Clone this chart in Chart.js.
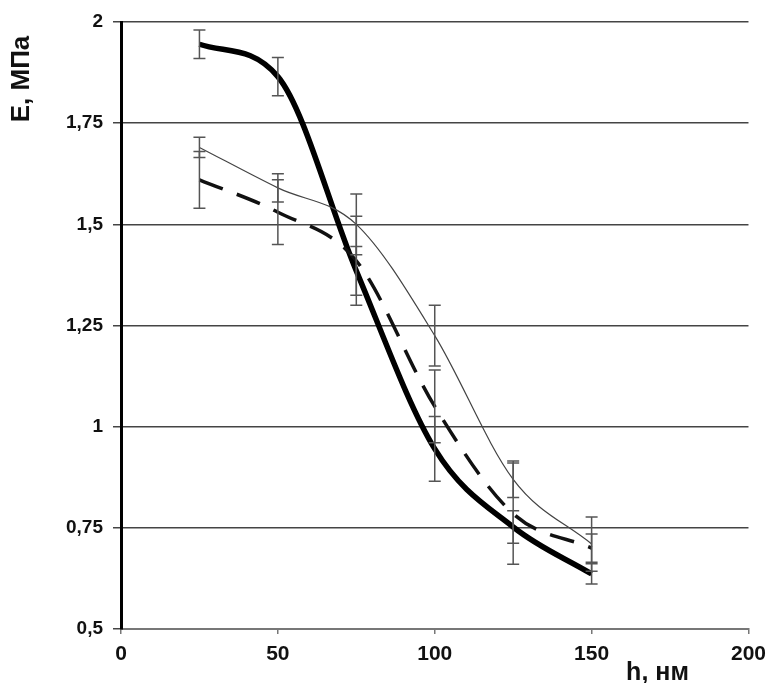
<!DOCTYPE html>
<html>
<head>
<meta charset="utf-8">
<script src="https://cdn.jsdelivr.net/npm/chart.js@4/dist/chart.umd.min.js"></script>
<style>
  body { margin: 0; background: #fff; }
  canvas { display: block; }
</style>
</head>
<body>
<canvas id="myChart" width="774" height="683"></canvas>
<script>
// h, нм
const hValues = [25, 50, 75, 100, 125, 150];

// E, МПа - three curves
const thickSeries = [1.945, 1.865, 1.385, 0.945, 0.752, 0.636];
const thickErr = [0.035, 0.047, 0.06, 0.08, 0.04, 0.025];

const dashedSeries = [1.61, 1.53, 1.41, 1.05, 0.785, 0.70];
const dashedErr = [0.07, 0.08, 0.11, 0.09, 0.125, 0.035];

const thinSeries = [1.69, 1.59, 1.50, 1.225, 0.87, 0.71];
const thinErr = [0.025, 0.035, 0.075, 0.075, 0.045, 0.067];

const xTicks = [0, 50, 100, 150, 200];
const yTicks = [0.5, 0.75, 1, 1.25, 1.5, 1.75, 2];

function toPoints(series) {
    return hValues.map((h, i) => ({ x: h, y: series[i] }));
}

// vertical error bars with caps, drawn through the chart scales
const errorBars = {
    id: 'errorBars',
    afterDatasetsDraw(chart) {
        const { ctx, scales: { x, y } } = chart;
        ctx.save();
        ctx.strokeStyle = '#555';
        ctx.lineWidth = 1.5;
        chart.data.datasets.forEach(ds => {
            ds.data.forEach((p, i) => {
                const px = x.getPixelForValue(p.x);
                const top = y.getPixelForValue(p.y + ds.errors[i]);
                const bot = y.getPixelForValue(p.y - ds.errors[i]);
                ctx.beginPath();
                ctx.moveTo(px, top); ctx.lineTo(px, bot);
                ctx.moveTo(px - 6, top); ctx.lineTo(px + 6, top);
                ctx.moveTo(px - 6, bot); ctx.lineTo(px + 6, bot);
                ctx.stroke();
            });
        });
        ctx.restore();
    }
};

// axis titles placed like in the original figure
const axisTitles = {
    id: 'axisTitles',
    afterDraw(chart) {
        const { ctx, chartArea, scales: { x } } = chart;
        ctx.save();
        ctx.fillStyle = '#111';
        ctx.font = 'bold 25px "Liberation Sans", Arial, sans-serif';
        ctx.textAlign = 'center';
        ctx.textBaseline = 'alphabetic';
        ctx.fillText('h, нм', x.getPixelForValue(171), chartArea.bottom + 51);

        ctx.font = 'bold 26px "Liberation Sans", Arial, sans-serif';
        ctx.translate(22, chartArea.top + 57);
        ctx.rotate(-Math.PI / 2);
        ctx.textBaseline = 'middle';
        ctx.fillText('E, МПа', 0, 0);
        ctx.restore();
    }
};

const ctx = document.getElementById('myChart').getContext('2d');
const myChart = new Chart(ctx, {
    type: 'line',
    data: {
        datasets: [
            {
                label: 'thin',
                data: toPoints(thinSeries),
                errors: thinErr,
                borderColor: '#444',
                borderWidth: 1.2,
                cubicInterpolationMode: 'monotone',
                pointRadius: 0,
                fill: false,
            },
            {
                label: 'dashed',
                data: toPoints(dashedSeries),
                errors: dashedErr,
                borderColor: '#111',
                borderWidth: 3.5,
                borderDash: [25, 15],
                cubicInterpolationMode: 'monotone',
                pointRadius: 0,
                fill: false,
            },
            {
                label: 'thick',
                data: toPoints(thickSeries),
                errors: thickErr,
                borderColor: '#000',
                borderWidth: 5.5,
                cubicInterpolationMode: 'monotone',
                pointRadius: 0,
                fill: false,
            },
        ],
    },
    options: {
        responsive: false,
        animation: false,
        layout: { padding: { top: 22, right: 21, left: 0, bottom: 0 } },
        plugins: {
            legend: { display: false },
            tooltip: { enabled: false },
        },
        scales: {
            x: {
                type: 'linear',
                position: 'bottom',
                min: xTicks[0],
                max: xTicks[xTicks.length - 1],
                afterBuildTicks: scale => { scale.ticks = xTicks.map(v => ({ value: v })); },
                afterFit: scale => { scale.height = 54; },
                ticks: {
                    color: '#111',
                    padding: 8,
                    font: { family: '"Liberation Sans", Arial, sans-serif', size: 21, weight: 'bold' },
                },
                grid: { drawOnChartArea: false, tickLength: 5, color: '#777', lineWidth: 1.5 },
                border: { color: '#777', width: 2 },
            },
            y: {
                min: yTicks[0],
                max: yTicks[yTicks.length - 1],
                afterBuildTicks: scale => { scale.ticks = yTicks.map(v => ({ value: v })); },
                afterFit: scale => { scale.width = 121; },
                ticks: {
                    color: '#111',
                    padding: 10,
                    font: { family: '"Liberation Sans", Arial, sans-serif', size: 19, weight: 'bold' },
                    callback: v => String(v).replace('.', ','),
                },
                grid: { color: '#444', lineWidth: 1.5, tickLength: 8 },
                border: { color: '#000', width: 3 },
            },
        },
    },
    plugins: [errorBars, axisTitles],
});
</script>
</body>
</html>
